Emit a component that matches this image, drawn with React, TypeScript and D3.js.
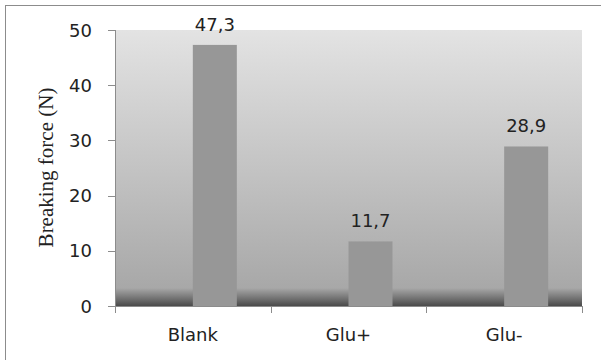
import React from "react";
import * as d3 from "d3";

const categories = ["Blank", "Glu+", "Glu-"];
const values = [47.3, 11.7, 28.9];
const valueLabels = ["47,3", "11,7", "28,9"];
const yTicks = [0, 10, 20, 30, 40, 50];

const W = 601;
const H = 360;
const plot = { left: 115, right: 582, top: 30, bottom: 306 };
const labelFont = "DejaVu Sans, Verdana, sans-serif";

export default function App() {
  const x = d3
    .scaleBand<string>()
    .domain(categories)
    .range([plot.left, plot.right])
    .padding(0);
  const y = d3.scaleLinear().domain([0, 50]).range([plot.bottom, plot.top]);
  const barW = 44;
  const floorTop = 288;

  return (
    <svg
      width={W}
      height={H}
      style={{ position: "absolute", left: 0, top: 0 }}
    >
      <defs>
        <linearGradient id="bg" x1="0" y1="0" x2="0" y2="1">
          <stop offset="0" stopColor="#e3e3e3" />
          <stop offset="1" stopColor="#a8a8a8" />
        </linearGradient>
        <linearGradient id="floor" x1="0" y1="0" x2="0" y2="1">
          <stop offset="0" stopColor="#a8a8a8" />
          <stop offset="0.5" stopColor="#7a7a7a" />
          <stop offset="1" stopColor="#4a4a4a" />
        </linearGradient>
      </defs>
      <rect x={0} y={0} width={W} height={H} fill="#fff" />
      {/* chart frame runs past the right and bottom edges */}
      <rect
        x={5.5}
        y={5.5}
        width={W}
        height={H}
        fill="#fff"
        stroke="#8c8c8c"
        strokeWidth={1}
      />
      <rect
        x={plot.left}
        y={plot.top}
        width={plot.right - plot.left}
        height={floorTop - plot.top}
        fill="url(#bg)"
      />
      <rect
        x={plot.left}
        y={floorTop}
        width={plot.right - plot.left}
        height={plot.bottom - floorTop}
        fill="url(#floor)"
      />
      {categories.map((c, i) => {
        const cx = (x(c) as number) + x.bandwidth() / 2;
        return (
          <g key={c}>
            <rect
              x={cx}
              y={y(values[i])}
              width={barW}
              height={plot.bottom - y(values[i])}
              fill="#979797"
            />
            <text
              x={cx + barW / 2}
              y={y(values[i]) - 14}
              textAnchor="middle"
              fontFamily={labelFont}
              fontSize={18}
              fill="#222"
            >
              {valueLabels[i]}
            </text>
            <text
              x={cx}
              y={341}
              textAnchor="middle"
              fontFamily={labelFont}
              fontSize={18}
              fill="#222"
            >
              {c}
            </text>
          </g>
        );
      })}
      {/* value axis */}
      <line
        x1={plot.left + 0.5}
        x2={plot.left + 0.5}
        y1={plot.top}
        y2={plot.bottom}
        stroke="#8c8c8c"
      />
      {yTicks.map((t) => (
        <g key={t}>
          <line
            x1={108}
            x2={plot.left}
            y1={Math.round(y(t)) + 0.5}
            y2={Math.round(y(t)) + 0.5}
            stroke="#8c8c8c"
          />
          <text
            x={92}
            y={y(t) + 6.5}
            textAnchor="end"
            fontFamily={labelFont}
            fontSize={18}
            fill="#222"
          >
            {t}
          </text>
        </g>
      ))}
      {/* category axis */}
      <line
        x1={plot.left}
        x2={plot.right}
        y1={plot.bottom + 0.5}
        y2={plot.bottom + 0.5}
        stroke="#8c8c8c"
      />
      {[...categories.map((c) => x(c) as number), plot.right].map((v, i) => (
        <line
          key={i}
          x1={Math.round(v) + 0.5}
          x2={Math.round(v) + 0.5}
          y1={plot.bottom}
          y2={plot.bottom + 7}
          stroke="#8c8c8c"
        />
      ))}
      <text
        transform="translate(53, 167.5) rotate(-90)"
        textAnchor="middle"
        fontFamily="Liberation Serif, Times New Roman, serif"
        fontSize={21}
        fill="#222"
      >
        Breaking force (N)
      </text>
    </svg>
  );
}
